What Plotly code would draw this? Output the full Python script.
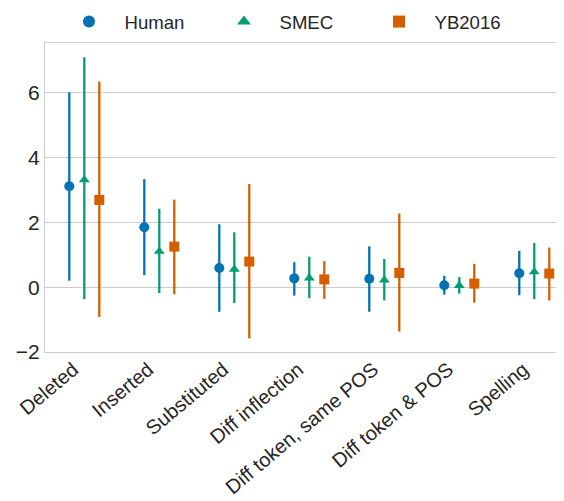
import plotly.graph_objects as go

categories = ["Deleted", "Inserted", "Substituted", "Diff inflection",
              "Diff token, same POS", "Diff token & POS", "Spelling"]

human_mean = [3.11, 1.85, 0.59, 0.27, 0.26, 0.06, 0.43]
human_low = [0.20, 0.37, -0.76, -0.26, -0.76, -0.23, -0.25]
human_high = [6.01, 3.33, 1.94, 0.77, 1.26, 0.35, 1.12]

smec_mean = [3.31, 1.10, 0.55, 0.28, 0.22, 0.05, 0.47]
smec_low = [-0.37, -0.18, -0.49, -0.34, -0.41, -0.20, -0.37]
smec_high = [7.09, 2.42, 1.69, 0.94, 0.87, 0.31, 1.36]

yb_mean = [2.69, 1.25, 0.79, 0.24, 0.44, 0.11, 0.42]
yb_low = [-0.92, -0.22, -1.58, -0.36, -1.37, -0.48, -0.41]
yb_high = [6.34, 2.70, 3.18, 0.80, 2.27, 0.72, 1.22]

y_ticks = [-2, 0, 2, 4, 6]
y_tick_labels = ["\u22122", "0", "2", "4", "6"]

series = [
    ("Human", human_mean, human_low, human_high, "#0173b2", "circle", 10),
    ("SMEC", smec_mean, smec_low, smec_high, "#029e73", "triangle-up", 9.5),
    ("YB2016", yb_mean, yb_low, yb_high, "#d55e00", "square", 10),
]

NB = "\u00a0\u00a0\u00a0"

fig = go.Figure()
for name, mean, lo, hi, color, symbol, size in series:
    fig.add_trace(go.Scatter(
        x=categories, y=mean, name=NB + name, mode="markers",
        marker=dict(color=color, symbol=symbol, size=size, line=dict(width=0)),
        error_y=dict(type="data", symmetric=False,
                     array=[h - m for h, m in zip(hi, mean)],
                     arrayminus=[m - l for m, l in zip(mean, lo)],
                     color=color, thickness=2.3, width=0),
    ))

fig.update_layout(
    width=564, height=501,
    margin=dict(l=37, r=0, t=35, b=157, autoexpand=False),
    paper_bgcolor="white", plot_bgcolor="white",
    scattermode="group", scattergap=0.4,
    font=dict(family="Liberation Sans, Arial, sans-serif", size=19, color="#262626"),
    showlegend=True,
    legend=dict(orientation="h", x=0.0455, xanchor="left", y=1.068, yanchor="middle",
                font=dict(size=18.6), entrywidth=110, entrywidthmode="pixels",
                itemsizing="constant", bgcolor="rgba(0,0,0,0)"),
    xaxis=dict(type="category", range=[-0.524, 6.503], showgrid=False, automargin=False,
               tickangle=-40, ticks="", showline=True, linecolor="#cccccc",
               ticklabelshift=-11, ticklabelstandoff=-3,
               linewidth=1.2, mirror=True, zeroline=False, tickfont=dict(size=20)),
    yaxis=dict(range=[-2.0, 7.53], tickvals=y_ticks, ticktext=y_tick_labels,
               automargin=False,
               showgrid=True, gridcolor="#cccccc", gridwidth=1,
               showline=True, linecolor="#cccccc", linewidth=1.2, mirror=False,
               zeroline=False, ticks="", tickfont=dict(size=21)),
)

fig.write_html("out.html")
